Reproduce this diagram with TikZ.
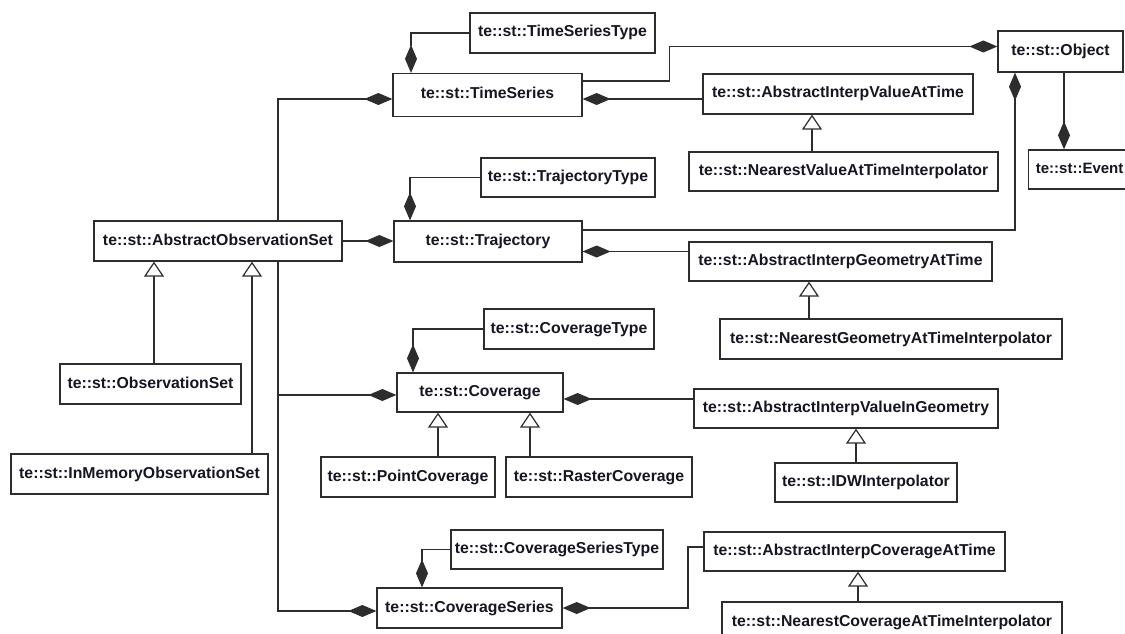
\documentclass[tikz,border=0pt]{standalone}
\usepackage{fontspec}
\setmainfont{Liberation Sans}
\usetikzlibrary{arrows.meta}
\definecolor{ink}{RGB}{45,45,45}
\definecolor{txt}{RGB}{22,22,34}
\begin{document}
\begin{tikzpicture}[x=1pt,y=-1pt,
  cls/.style={draw=ink,line width=1.3pt,fill=white,minimum height=40pt,inner sep=0pt,
    text=txt,font=\fontsize{15.8}{18}\selectfont\bfseries,text height=11.5pt,text depth=3.5pt},
  comp/.style={draw=ink,line width=1.2pt,-{Diamond[length=28pt,width=12pt,fill=ink]}},
  gen/.style={draw=ink,line width=1.2pt,-{Triangle[open,length=15pt,width=20pt,fill=white]}}]
\useasboundingbox (0,0) rectangle (1125,634);
\fill[white] (0,0) rectangle (1125,634);
\clip (0,0) rectangle (1125,634);

% classes
\node[cls,minimum width=185pt,minimum height=40pt] (TST) at (562.5,33) {te::st::TimeSeriesType};
\node[cls,minimum width=189pt,minimum height=43pt] (TS) at (487.5,95) {te::st::TimeSeries};
\node[cls,minimum width=270pt] (AIVAT) at (838,94) {te::st::AbstractInterpValueAtTime};
\node[cls,minimum width=309pt,minimum height=39pt] (NVATI) at (843.5,171.5) {te::st::NearestValueAtTimeInterpolator};
\node[cls,minimum width=125pt,minimum height=41pt] (Obj) at (1060.5,51.5) {te::st::Object};
\node[cls,minimum width=102pt,minimum height=39pt,anchor=west,inner xsep=5pt,
  font=\fontsize{15}{18}\selectfont\bfseries] (Event) at (1028,169.5) {te::st::Event\hfill};
\node[cls,minimum width=248pt] (AOS) at (218,241) {te::st::AbstractObservationSet};
\node[cls,minimum width=174pt,minimum height=39pt] (TT) at (568,177.5) {te::st::TrajectoryType};
\node[cls,minimum width=188pt,minimum height=41pt] (Traj) at (488,241.5) {te::st::Trajectory};
\node[cls,minimum width=303pt,minimum height=39pt] (AIGAT) at (840.5,261.5) {te::st::AbstractInterpGeometryAtTime};
\node[cls,minimum width=342pt] (NGATI) at (891,339) {te::st::NearestGeometryAtTimeInterpolator};
\node[cls,minimum width=170pt] (CT) at (569,329) {te::st::CoverageType};
\node[cls,minimum width=166pt,minimum height=39pt] (Cov) at (480,392.5) {te::st::Coverage};
\node[cls,minimum width=304pt,minimum height=39pt] (AIVIG) at (846,408.5) {te::st::AbstractInterpValueInGeometry};
\node[cls,minimum width=174pt] (PC) at (408,477) {te::st::PointCoverage};
\node[cls,minimum width=186pt] (RC) at (599,477) {te::st::RasterCoverage};
\node[cls,minimum width=182pt,minimum height=39pt] (IDW) at (866,482.5) {te::st::IDWInterpolator};
\node[cls,minimum width=181pt] (OS) at (150.5,384) {te::st::ObservationSet};
\node[cls,minimum width=257pt] (IMOS) at (139.5,474) {te::st::InMemoryObservationSet};
\node[cls,minimum width=212pt,minimum height=39pt] (CST) at (557,549.5) {te::st::CoverageSeriesType};
\node[cls,minimum width=185pt] (CS) at (469.5,608) {te::st::CoverageSeries};
\node[cls,minimum width=301pt,minimum height=39pt] (AICAT) at (854.5,551.5) {te::st::AbstractInterpCoverageAtTime};
\node[cls,minimum width=340pt] (NCATI) at (892,622) {te::st::NearestCoverageAtTimeInterpolator};

% routing columns
\coordinate (xAOS) at (278,0);
\coordinate (xTS) at (411,0);
\coordinate (xTraj) at (410,0);
\coordinate (xCov) at (413,0);
\coordinate (xCS) at (422,0);
\coordinate (xObj) at (1015,0);
\coordinate (xEv) at (1064,0);
\coordinate (xCSr) at (688,0);
\coordinate (gOS) at (154,0);
\coordinate (gIM) at (252,0);
\coordinate (gNV) at (812,0);
\coordinate (gNG) at (809,0);
\coordinate (gPC) at (438,0);
\coordinate (gRC) at (530,0);
\coordinate (gID) at (856,0);
\coordinate (gNC) at (858,0);
\coordinate (tsr) at ([yshift=-4pt]TS.east);
\coordinate (trr) at ([yshift=-10pt]Traj.east);
\coordinate (cvr) at ([yshift=-6.5pt]Cov.east);

% compositions
\draw[comp] (AOS.north -| xAOS) |- ([yshift=-4pt]TS.west);
\draw[comp] (AOS.east) -- (AOS.east -| Traj.west);
\draw[comp] (AOS.south -| xAOS) |- ([yshift=-2.5pt]Cov.west);
\draw[comp] (AOS.south -| xAOS) |- ([yshift=-3pt]CS.west);
\draw[comp] (TST.west) -| (TS.north -| xTS);
\draw[comp] ([yshift=14pt]TS.east) -- ++(87,0) |- ([yshift=5pt]Obj.west);
\draw[comp] (tsr -| AIVAT.west) -- (tsr);
\draw[comp] ([yshift=11.5pt]Traj.east) -| (Obj.south -| xObj);
\draw[comp] (TT.west) -| (Traj.north -| xTraj);
\draw[comp] (trr -| AIGAT.west) -- (trr);
\draw[comp] (Obj.south -| xEv) -- (Event.north -| xEv);
\draw[comp] (CT.west) -| (Cov.north -| xCov);
\draw[comp] (cvr -| AIVIG.west) -- (cvr);
\draw[comp] (CST.west) -| (CS.north -| xCS);
\draw[comp] ([yshift=4.5pt]AICAT.west) -| (xCSr |- CS.east) -- (CS.east);

% generalizations
\draw[gen] (OS.north -| gOS) -- (AOS.south -| gOS);
\draw[gen] (IMOS.north -| gIM) -- (AOS.south -| gIM);
\draw[gen] (NVATI.north -| gNV) -- (AIVAT.south -| gNV);
\draw[gen] (NGATI.north -| gNG) -- (AIGAT.south -| gNG);
\draw[gen] (PC.north -| gPC) -- (Cov.south -| gPC);
\draw[gen] (RC.north -| gRC) -- (Cov.south -| gRC);
\draw[gen] (IDW.north -| gID) -- (AIVIG.south -| gID);
\draw[gen] (NCATI.north -| gNC) -- (AICAT.south -| gNC);
\end{tikzpicture}
\end{document}
